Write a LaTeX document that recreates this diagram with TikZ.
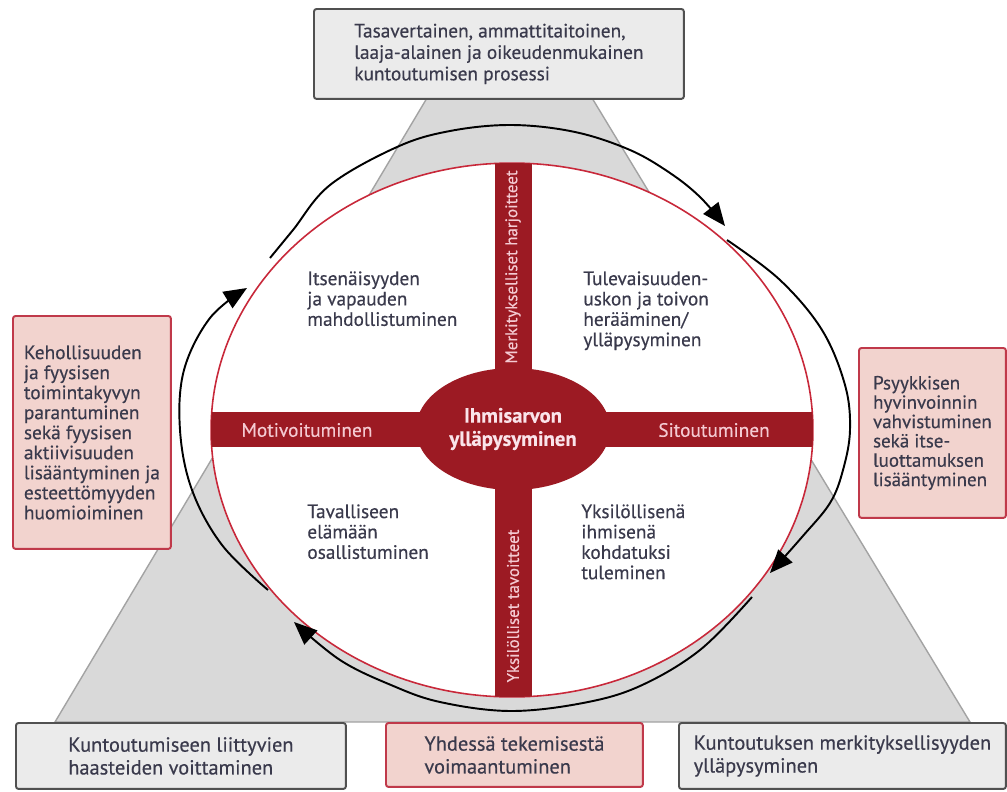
\documentclass[tikz,border=0pt]{standalone}
\usepackage{fontspec}
\setmainfont{PT Sans}[FakeBold=0.4]
\usetikzlibrary{shapes.geometric,arrows.meta}
\definecolor{dred}{HTML}{9C1A23}
\definecolor{ered}{HTML}{C8283A}
\definecolor{trifill}{HTML}{D9D9D9}
\definecolor{triedge}{HTML}{A3A3A3}
\definecolor{gboxfill}{HTML}{EBEBEB}
\definecolor{gboxedge}{HTML}{505050}
\definecolor{pboxfill}{HTML}{F2D3CE}
\definecolor{pboxedge}{HTML}{C0394A}
\definecolor{txt}{HTML}{3A3A4C}
\definecolor{bartxt}{HTML}{F4CAD2}
\begin{document}
\begin{tikzpicture}[x=0.02cm,y=-0.02cm,
  box/.style={rectangle, rounded corners=1.5pt, line width=1.1pt, align=left, inner sep=0pt, text=txt, anchor=north west, font=\fontsize{11}{12.2}\selectfont},
  graybox/.style={box, draw=gboxedge, fill=gboxfill},
  pinkbox/.style={box, draw=pboxedge, fill=pboxfill},
  quad/.style={align=left, inner sep=0pt, anchor=north west, text=txt, font=\fontsize{11}{11.6}\selectfont},
  bartext/.style={text=bartxt, inner sep=0pt, font=\fontsize{11}{12}\selectfont},
  vbartext/.style={bartext, rotate=90, font=\fontsize{9.6}{10}\selectfont},
  cycarc/.style={line width=1.1pt, -{Triangle[length=0.46cm,width=0.38cm]}}
]
\useasboundingbox (0,0) rectangle (1007,791);
\fill[white] (0,0) rectangle (1007,791);
% grey triangle
\filldraw[fill=trifill, draw=triedge, line width=0.8pt] (427,98) -- (592,98) -- (970,722) -- (55,722) -- cycle;
% main ellipse
\node[ellipse, draw=ered, line width=0.9pt, fill=white, minimum width=12.04cm, minimum height=10.68cm, inner sep=0pt] (E) at (512,430) {};
\begin{scope}
  \clip (512,430) ellipse [x radius=6.02cm, y radius=5.34cm];
  \fill[dred] (150,412) rectangle (870,447);
  \fill[dred] (495,100) rectangle (532,760);
\end{scope}
\node[ellipse, fill=dred, minimum width=3.88cm, minimum height=2.44cm, inner sep=0pt, text={rgb,255:red,250;green,228;blue,234}, align=center, font=\bfseries\fontsize{11.8}{13.2}\selectfont] (C) at (513,429) {Ihmisarvon\\ylläpysyminen};
% bar texts
\node[bartext] (mot) at (307,430) {Motivoituminen};
\node[bartext] (sit) at (714,430) {Sitoutuminen};
\node[vbartext] (mer) at (513,267) {Merkitykselliset harjoitteet};
\node[vbartext] (yks) at (513,606) {Yksilölliset tavoitteet};
% quadrant texts
\node[quad] (q1) at (307,271) {Itsenäisyyden\\ja vapauden\\mahdollistuminen};
\node[quad] (q2) at (583,271) {Tulevaisuuden-\\uskon ja toivon\\herääminen/\\ylläpysyminen};
\node[quad] (q3) at (307,504) {Tavalliseen\\elämään\\osallistuminen};
\node[quad] (q4) at (581,504) {Yksilöllisenä\\ihmisenä\\kohdatuksi\\tuleminen};
% cycle arcs
\coordinate (a1s) at (268,590); \coordinate (a1e) at (247,288);
\coordinate (a2s) at (270,258); \coordinate (a2e) at (725,226);
\coordinate (a3s) at (727,240); \coordinate (a3e) at (770,573);
\coordinate (a4s) at (752,597); \coordinate (a4e) at (294,622);
\draw[cycarc] plot[smooth, tension=0.6] coordinates {(a1s) (222,545) (192,490) (180,430) (184,370) (210,318) (a1e)};
\draw[cycarc] plot[smooth, tension=0.6] coordinates {(a2s) (293,230) (330,185) (397,147) (450,131) (512,125) (575,132) (630,150) (670,173) (700,197) (a2e)};
\draw[cycarc] plot[smooth, tension=0.6] coordinates {(a3s) (780,280) (822,330) (845,385) (850,430) (843,470) (830,503) (802,537) (a3e)};
\draw[cycarc] plot[smooth, tension=0.6] coordinates {(a4s) (700,650) (640,686) (583,703) (510,711) (440,702) (391,685) (340,660) (a4e)};
% boxes
\node[graybox, minimum width=7.4cm, minimum height=1.8cm] (top) at (313,8) {Tasavertainen, ammattitaitoinen,\\laaja-alainen ja oikeudenmukainen\\kuntoutumisen prosessi};
\node[pinkbox, minimum width=3.16cm, minimum height=4.66cm, font=\fontsize{11}{11.4}\selectfont] (left) at (12,315) {Kehollisuuden\\ja fyysisen\\toimintakyvyn\\parantuminen\\sekä fyysisen\\aktiivisuuden\\lisääntyminen ja\\esteettömyyden\\huomioiminen};
\node[pinkbox, minimum width=2.94cm, minimum height=3.4cm, font=\fontsize{10.8}{11}\selectfont] (right) at (858,347) {Psyykkisen\\hyvinvoinnin\\vahvistuminen\\sekä itse-\\luottamuksen\\lisääntyminen};
\node[graybox, minimum width=6.6cm, minimum height=1.32cm, font=\fontsize{11.6}{13}\selectfont] (bl) at (15,722) {Kuntoutumiseen liittyvien\\haasteiden voittaminen};
\node[pinkbox, minimum width=5.14cm, minimum height=1.28cm, font=\fontsize{11.6}{13}\selectfont] (bm) at (385,722) {Yhdessä tekemisestä\\voimaantuminen};
\node[graybox, minimum width=6.54cm, minimum height=1.32cm, font=\fontsize{11.6}{13}\selectfont] (br) at (678,722) {Kuntoutuksen merkityksellisyyden\\ylläpysyminen};
\end{tikzpicture}
\end{document}
